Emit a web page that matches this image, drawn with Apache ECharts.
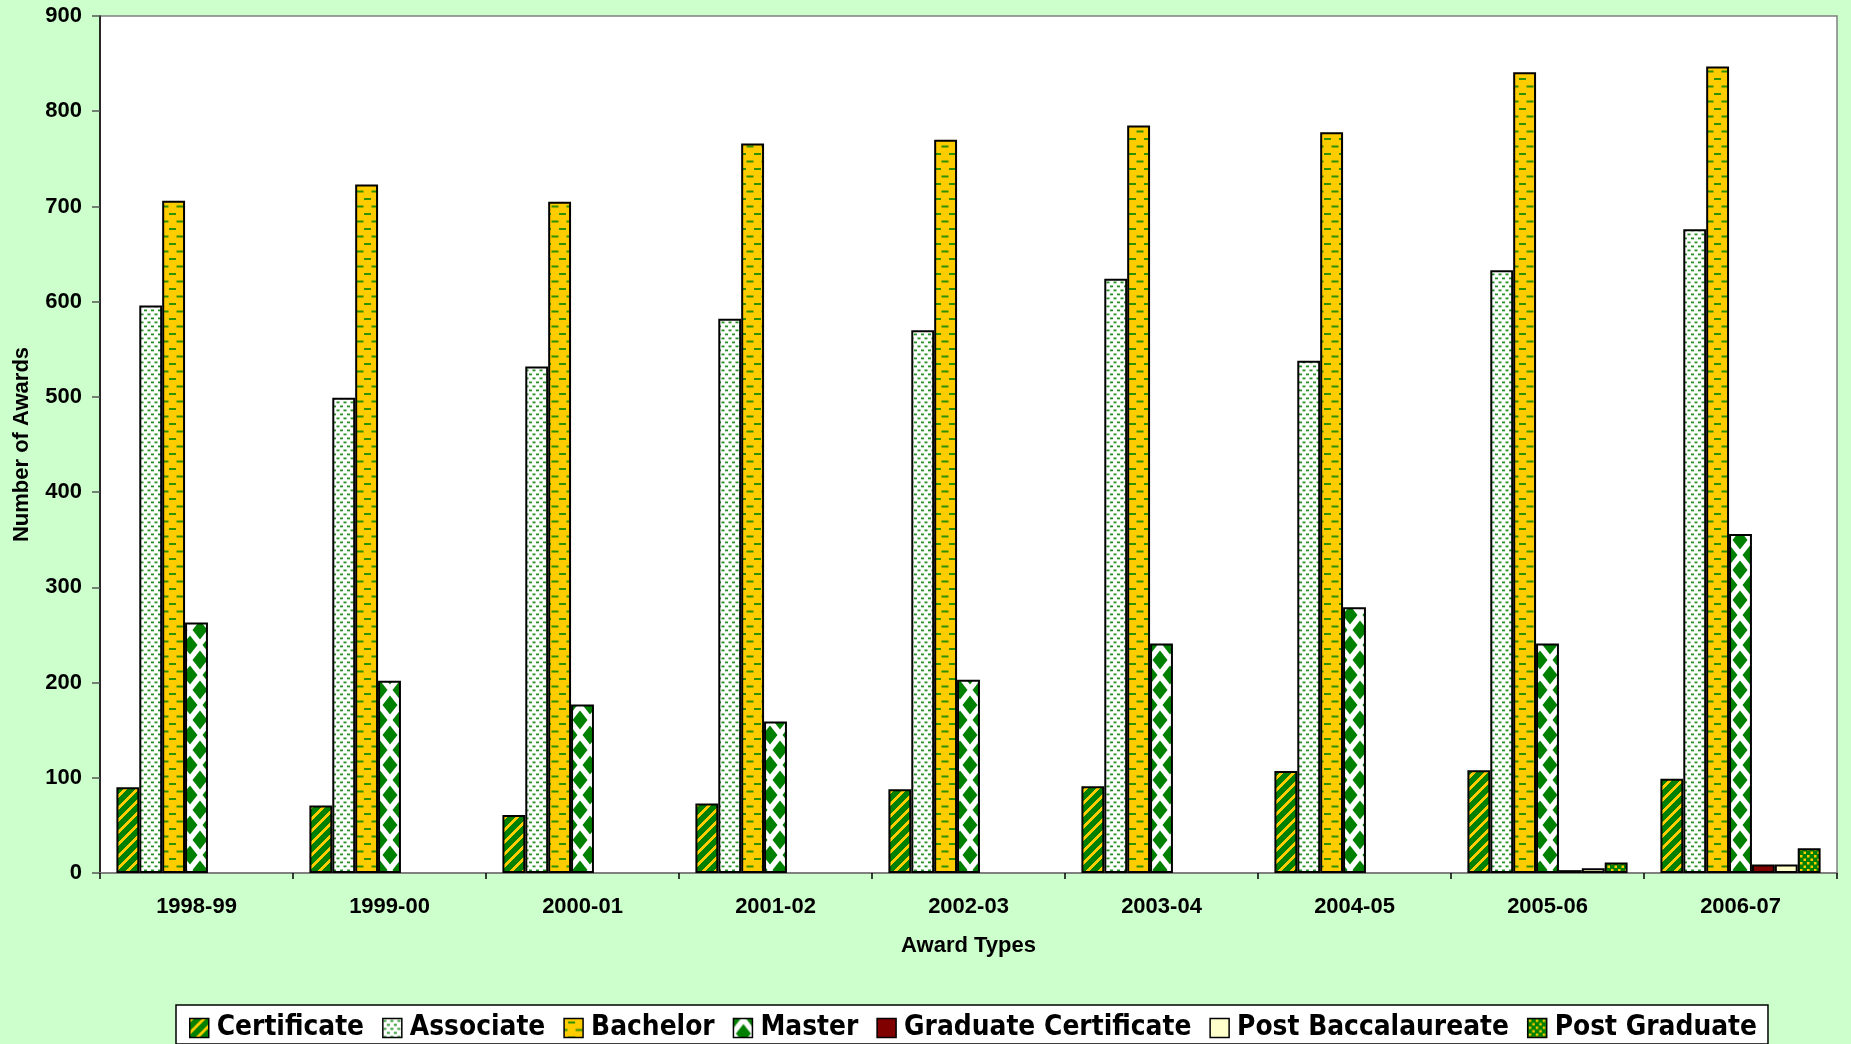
<!DOCTYPE html>
<html>
<head>
<meta charset="utf-8">
<script src="https://cdn.jsdelivr.net/npm/echarts@6/dist/echarts.min.js"></script>
<style>
html,body{margin:0;padding:0;background:#CCFFCC;}
#chart{width:1851px;height:1044px;}
</style>
</head>
<body>
<div id="chart"></div>
<script>
// ---- data ----
const categories = ['1998-99','1999-00','2000-01','2001-02','2002-03','2003-04','2004-05','2005-06','2006-07'];
const certificate = [90, 71, 61, 73, 88, 91, 107, 108, 99];
const associate = [596, 499, 532, 582, 570, 624, 538, 633, 676];
const bachelor = [706, 723, 705, 766, 770, 785, 778, 841, 847];
const master = [263, 202, 177, 159, 203, 241, 279, 241, 356];
const graduateCertificate = [null, null, null, null, null, null, null, 3, 9];
const postBaccalaureate = [null, null, null, null, null, null, null, 5, 9];
const postGraduate = [null, null, null, null, null, null, null, 11, 26];
const yTicks = {min: 0, max: 900, interval: 100};
const seriesNames = ['Certificate','Associate','Bachelor','Master','Graduate Certificate','Post Baccalaureate','Post Graduate'];

// ---- pattern fills ----
const GREEN = '#008000', YELLOW = '#FFCC00';
function tile(w, h, draw) {
  const c = document.createElement('canvas');
  c.width = w; c.height = h;
  draw(c.getContext('2d'), w, h);
  return c;
}
function stripes() {
  return tile(12, 12, (ctx, w, h) => {
    const img = ctx.createImageData(w, h);
    for (let y = 0; y < h; y++) for (let x = 0; x < w; x++) {
      const t = (x + y) % 12;
      const i = (y * w + x) * 4;
      const yel = t < 4;
      img.data[i] = yel ? 255 : 0; img.data[i+1] = yel ? 204 : 128; img.data[i+2] = 0; img.data[i+3] = 255;
    }
    ctx.putImageData(img, 0, 0);
  });
}
function dots() {
  return tile(7, 8, (ctx) => {
    ctx.fillStyle = '#fff'; ctx.fillRect(0, 0, 7, 8);
    ctx.fillStyle = '#229222';
    ctx.fillRect(0.5, 1.5, 3, 1.8);
    ctx.fillRect(4, 5.5, 3, 1.8);
  });
}
function dashes() {
  return tile(15, 15, (ctx) => {
    ctx.fillStyle = YELLOW; ctx.fillRect(0, 0, 15, 15);
    ctx.fillStyle = '#2f9000';
    ctx.fillRect(4, 3, 7, 2);
    ctx.fillRect(11.5, 10.5, 7, 2);
    ctx.fillRect(-3.5, 10.5, 7, 2);
  });
}
function diamonds() {
  return tile(20, 30, (ctx) => {
    ctx.fillStyle = '#fff'; ctx.fillRect(0, 0, 20, 30);
    ctx.fillStyle = GREEN;
    const hw = 7.5, hh = 9.5;
    [[0,0],[20,0],[0,30],[20,30],[10,15]].forEach(([cx, cy]) => {
      ctx.beginPath();
      ctx.moveTo(cx, cy - hh); ctx.lineTo(cx + hw, cy); ctx.lineTo(cx, cy + hh); ctx.lineTo(cx - hw, cy);
      ctx.closePath(); ctx.fill();
    });
  });
}
function confetti() {
  return tile(7, 7, (ctx) => {
    ctx.fillStyle = GREEN; ctx.fillRect(0, 0, 7, 7);
    ctx.fillStyle = '#FFCC00';
    ctx.fillRect(1, 1, 2.5, 2.5);
    ctx.fillRect(4.5, 4.5, 2.5, 2.5);
  });
}
const fills = [
  {image: stripes(), repeat: 'repeat'},
  {image: dots(), repeat: 'repeat'},
  {image: dashes(), repeat: 'repeat'},
  {image: diamonds(), repeat: 'repeat'},
  '#800000',
  '#FFFFCC',
  {image: confetti(), repeat: 'repeat'}
];

// ---- legend font: a narrow bold face, sized to the reference text width ----
function pickLegendFont() {
  const c = document.createElement('canvas').getContext('2d');
  const sample = 'Post Baccalaureate';
  c.font = 'bold 36px monospace';
  const mono = c.measureText(sample).width;
  const cands = ['Liberation Sans Narrow', 'DejaVu Sans Condensed', 'Liberation Sans'];
  for (const f of cands) {
    c.font = 'bold 36px "' + f + '", monospace';
    const w = c.measureText(sample).width;
    if (Math.abs(w - mono) > 0.5) return {family: f, size: Math.min(36, 36 * 272 / w)};
  }
  return {family: 'Liberation Sans', size: 29};
}
const lf = pickLegendFont();

const FONT = '"Liberation Sans", Arial, sans-serif';
const dataArrays = [certificate, associate, bachelor, master, graduateCertificate, postBaccalaureate, postGraduate];

const chart = echarts.init(document.getElementById('chart'), null, {renderer: 'canvas'});
chart.setOption({
  animation: false,
  backgroundColor: '#CCFFCC',
  textStyle: {fontFamily: FONT},
  grid: {
    left: 100, right: 14, top: 16, bottom: 171,
    show: true, backgroundColor: '#ffffff', borderColor: '#808080', borderWidth: 1.5
  },
  legend: {
    data: seriesNames,
    icon: 'rect',
    left: 176, top: 1005,
    orient: 'horizontal',
    padding: [9, 11, 2, 13],
    itemGap: 18,
    itemWidth: 19, itemHeight: 19,
    backgroundColor: '#ffffff',
    borderColor: '#000000', borderWidth: 1.5,
    itemStyle: {borderColor: '#000', borderWidth: 1.5},
    textStyle: {fontFamily: '"' + lf.family + '", ' + FONT, fontWeight: 'bold', fontSize: lf.size, color: '#000', padding: [0, 0, 0, 3]}
  },
  xAxis: {
    type: 'category',
    data: categories,
    boundaryGap: true,
    name: 'Award Types',
    nameLocation: 'middle',
    nameGap: 62,
    nameTextStyle: {fontFamily: FONT, fontWeight: 'bold', fontSize: 22, color: '#000'},
    axisLine: {lineStyle: {color: '#808080', width: 2}},
    axisTick: {show: true, alignWithLabel: false, length: 6, lineStyle: {color: '#000', width: 1.5}},
    axisLabel: {fontFamily: FONT, fontWeight: 'bold', fontSize: 22, color: '#000', margin: 23, interval: 0},
    splitLine: {show: false}
  },
  yAxis: {
    type: 'value',
    min: yTicks.min, max: yTicks.max, interval: yTicks.interval,
    name: 'Number of Awards',
    nameLocation: 'middle',
    nameGap: 67,
    nameTextStyle: {fontFamily: FONT, fontWeight: 'bold', fontSize: 22, color: '#000'},
    axisLine: {show: true, lineStyle: {color: '#000', width: 1.5}},
    axisTick: {show: true, inside: false, length: 8, lineStyle: {color: '#555', width: 1.5}},
    axisLabel: {fontFamily: FONT, fontWeight: 'bold', fontSize: 22, color: '#000', margin: 18},
    splitLine: {show: false}
  },
  series: seriesNames.map((name, i) => ({
    name: name,
    type: 'bar',
    data: dataArrays[i],
    barGap: '0%',
    barCategoryGap: '17%',
    itemStyle: {color: fills[i], borderColor: '#000', borderWidth: 2}
  }))
});
</script>
</body>
</html>
